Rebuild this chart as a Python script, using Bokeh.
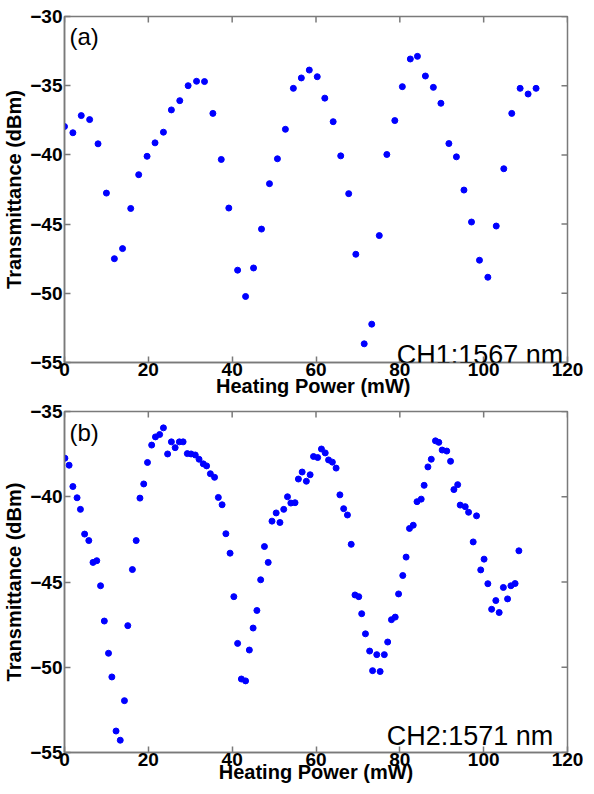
import math
from bokeh.plotting import figure
from bokeh.models import Range1d, FixedTicker, Label
from bokeh.layouts import column
from bokeh.embed import file_html
from bokeh.resources import INLINE

# ---- data: panel (a), CH1 1567 nm ----
a_power = [0, 2.0, 4.0, 6.0, 8.0, 10.0, 11.9, 13.85, 15.8, 17.7, 19.7, 21.6, 23.6, 25.5, 27.5,
           29.5, 31.5, 33.4, 35.4, 37.4, 39.2, 41.3, 43.2, 45.1, 47.0, 48.9, 50.8, 52.7, 54.6,
           56.5, 58.4, 60.3, 62.1, 64.1, 65.9, 67.8, 69.5, 71.5, 73.3, 75.1, 76.9, 78.8, 80.6,
           82.5, 84.2, 86.1, 88.0, 89.8, 91.7, 93.5, 95.3, 97.1, 99.0, 101.0, 103.0, 104.8,
           106.7, 108.7, 110.6, 112.5]
a_trans = [-37.95, -38.4, -37.16, -37.45, -39.2, -42.76, -47.5, -46.77, -43.87, -41.43, -40.1,
           -39.13, -38.36, -36.75, -36.08, -35.0, -34.68, -34.7, -37.0, -40.33, -43.84, -48.33,
           -50.23, -48.17, -45.36, -42.08, -40.28, -38.15, -35.19, -34.44, -33.87, -34.35, -35.9,
           -37.6, -40.07, -42.8, -47.18, -53.65, -52.23, -45.83, -39.97, -37.52, -35.07, -33.07,
           -32.88, -34.3, -35.12, -36.27, -39.18, -40.14, -42.54, -44.85, -47.61, -48.84, -45.14,
           -41.0, -37.0, -35.19, -35.6, -35.19]

# ---- data: panel (b), CH2 1571 nm ----
b_power = [0.1, 1.1, 2.0, 3.0, 3.8, 4.8, 5.8, 6.8, 7.7, 8.6, 9.5, 10.5, 11.3, 12.3, 13.3, 14.3,
           15.1, 16.2, 17.1, 18.0, 18.9, 19.8, 20.8, 21.7, 22.7, 23.6, 24.6, 25.5, 26.4, 27.4,
           28.3, 29.3, 30.2, 31.2, 32.1, 33.1, 33.9, 34.8, 35.8, 36.7, 37.6, 38.5, 39.5, 40.4,
           41.3, 42.2, 43.2, 44.1, 45.0, 45.9, 46.8, 47.7, 48.6, 49.5, 50.5, 51.4, 52.3, 53.2,
           54.0, 55.0, 55.8, 56.7, 57.7, 58.6, 59.4, 60.4, 61.3, 62.2, 63.0, 63.9, 64.8, 65.7,
           66.6, 67.5, 68.4, 69.3, 70.2, 70.9, 71.8, 72.8, 73.5, 74.5, 75.3, 76.3, 77.1, 78.0,
           78.9, 79.7, 80.7, 81.5, 82.3, 83.2, 84.1, 85.1, 85.8, 86.7, 87.5, 88.5, 89.3, 90.1,
           91.2, 92.1, 92.9, 93.8, 94.4, 95.6, 96.4, 97.5, 98.3, 99.3, 100.1, 101.0, 101.9,
           102.9, 103.7, 104.7, 105.7, 106.5, 107.5, 108.4]
b_trans = [-37.74, -38.15, -39.4, -40.06, -40.74, -42.19, -42.57, -43.85, -43.75, -45.22, -47.29,
           -49.18, -50.57, -53.74, -54.28, -51.96, -47.56, -44.27, -42.57, -40.08, -39.25, -37.99,
           -36.97, -36.49, -36.35, -35.96, -37.49, -36.78, -37.12, -36.78, -36.78, -37.47, -37.49,
           -37.55, -37.8, -38.07, -38.19, -38.65, -38.86, -40.04, -40.47, -42.17, -43.31, -45.86,
           -48.6, -50.69, -50.8, -48.99, -47.7, -46.67, -44.87, -42.92, -43.85, -41.43, -40.95,
           -41.51, -40.74, -40.0, -40.37, -40.35, -38.96, -38.55, -39.09, -38.71, -37.64, -37.7,
           -37.2, -37.43, -37.84, -37.97, -38.32, -39.89, -40.7, -41.07, -42.79, -45.76, -45.86,
           -46.86, -48.04, -49.05, -50.2, -49.26, -50.25, -49.26, -48.52, -47.21, -47.06, -45.7,
           -44.62, -43.54, -41.86, -41.67, -40.29, -40.14, -39.33, -38.25, -37.8, -36.72, -36.81,
           -37.26, -37.32, -37.92, -39.58, -39.29, -40.49, -40.58, -40.91, -42.65, -41.12, -44.29,
           -43.66, -45.1, -46.6, -46.09, -46.79, -45.32, -45.99, -45.22, -45.09, -43.17]

x_ticks = [0, 20, 40, 60, 80, 100, 120]
a_yticks = [-55, -50, -45, -40, -35, -30]
b_yticks = [-55, -50, -45, -40, -35]

FONT = "Liberation Sans"
GRAY = "#7a7a7a"
XMIN, XMAX = 0, 120


def make_panel(xs, ys, ymin, ymax, yticks, xlabel, tag, tag_y, note, note_x, note_y,
               frame_h, top_border, x_label_standoff):
    p = figure(frame_width=503, frame_height=frame_h, output_backend="svg",
               toolbar_location=None, x_range=Range1d(XMIN, XMAX), y_range=Range1d(ymin, ymax),
               min_border_left=55, min_border_right=16, min_border_top=top_border,
               min_border_bottom=0)
    p.title.visible = False
    p.grid.visible = False
    p.outline_line_color = GRAY
    p.outline_line_width = 1.5
    p.scatter(xs, ys, size=6, color="#0000ff", line_color="#0000ff")

    # inward ticks on the top and right edges of the box (half of each dash is clipped)
    p.scatter(x_ticks, [ymax] * len(x_ticks), marker="dash", angle=math.pi / 2, size=12,
              line_color=GRAY, line_width=1.5)
    p.scatter([XMAX] * len(yticks), yticks, marker="dash", angle=0, size=12,
              line_color=GRAY, line_width=1.5)

    for ax in (p.xaxis[0], p.yaxis[0]):
        ax.axis_line_color = GRAY
        ax.axis_line_width = 1.5
        ax.major_tick_line_color = GRAY
        ax.major_tick_line_width = 1.5
        ax.major_tick_in = 6
        ax.major_tick_out = 0
        ax.minor_tick_line_color = None
        ax.major_label_text_font = FONT
        ax.major_label_text_font_style = "bold"
        ax.major_label_text_font_size = "19px"
        ax.major_label_text_color = "black"
        ax.axis_label_text_font = FONT
        ax.axis_label_text_font_style = "bold"
        ax.axis_label_text_font_size = "20px"
        ax.axis_label_text_color = "black"
    p.xaxis[0].ticker = FixedTicker(ticks=x_ticks)
    p.yaxis[0].ticker = FixedTicker(ticks=yticks)
    p.xaxis[0].axis_label = xlabel
    p.yaxis[0].axis_label = "Transmittance (dBm)"
    p.xaxis[0].major_label_standoff = 0
    p.xaxis[0].axis_label_standoff = x_label_standoff
    p.yaxis[0].major_label_standoff = 2
    p.yaxis[0].axis_label_standoff = 2

    p.add_layout(Label(x=1.2, y=tag_y, text=tag, text_font=FONT, text_font_size="24px",
                       text_color="black", text_baseline="top", text_align="left"))
    p.add_layout(Label(x=note_x, y=note_y, text=note, text_font=FONT, text_font_size="27px",
                       text_color="black", text_baseline="alphabetic", text_align="right"))
    return p


p1 = make_panel(a_power, a_trans, -55, -30, a_yticks, "Heating Power  (mW)", "(a)", -30.47,
                "CH1:1567 nm", 119.0, -54.45, 346, 16, -4)
p2 = make_panel(b_power, b_trans, -55, -35, b_yticks, "Heating Power (mW)", "(b)", -35.46,
                "CH2:1571 nm", 116.6, -54.05, 341, 12, -8)

layout = column(p1, p2, spacing=0)
open("out.html", "w").write(file_html(layout, INLINE))
